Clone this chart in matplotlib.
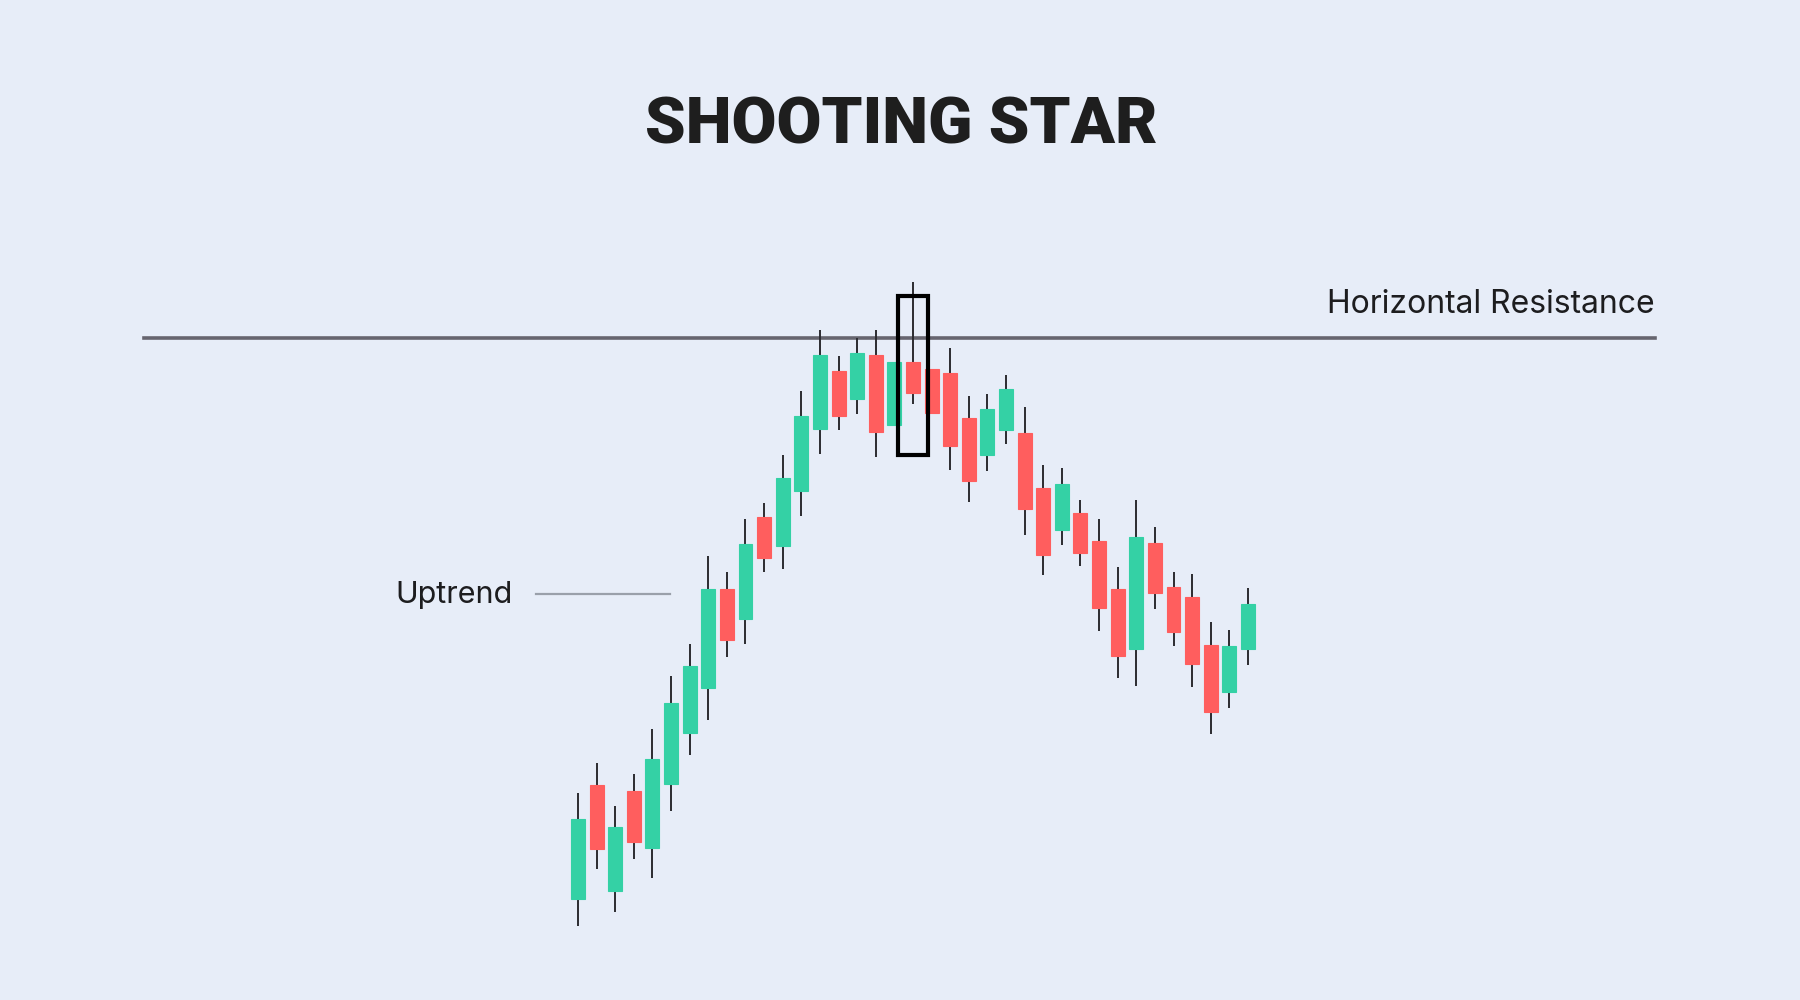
import matplotlib
matplotlib.use("Agg")
import matplotlib.pyplot as plt
from matplotlib.patches import Rectangle
import matplotlib.transforms as mtransforms

# candle data (price units), one entry per candle
opens = [101, 215, 109, 209, 152, 216, 267, 312, 411, 381, 483, 454, 509, 571, 629, 601, 645, 575, 638,
         631, 627, 582, 545, 570, 567, 512, 470, 487, 459, 411, 351, 457, 413, 403, 355, 308, 351]
closes = [181, 151, 173, 158, 241, 297, 334, 411, 360, 456, 442, 522, 584, 645, 584, 647, 568, 638, 607,
          587, 554, 519, 591, 611, 491, 445, 516, 447, 392, 344, 463, 407, 368, 336, 288, 354, 396]
highs = [207, 237, 194, 226, 271, 324, 356, 444, 428, 481, 497, 545, 609, 670, 644, 662, 670, 638, 718,
         631, 652, 604, 606, 625, 593, 535, 532, 500, 481, 433, 500, 473, 428, 426, 378, 370, 412]
lows = [74, 131, 88, 141, 122, 189, 245, 280, 343, 356, 428, 431, 484, 546, 570, 586, 543, 575, 596,
        587, 530, 498, 529, 556, 465, 425, 455, 434, 369, 322, 314, 391, 354, 313, 266, 292, 335]
resistance = 662
star_idx = 18

bg = "#e7edf8"
green = "#34d1a5"
red = "#ff5e5e"

fig = plt.figure(figsize=(18, 10), dpi=100, facecolor=bg)
ax = fig.add_axes([0, 0, 1, 1])
ax.set_facecolor(bg)

step = 18.61  # pixel spacing between candles
x0 = 578.0    # pixel position of the first candle
ax.set_xlim(-x0 / step, (1800 - x0) / step)
ax.set_ylim(0, 1000)
ax.axis("off")

width = 0.75
for i in range(len(opens)):
    o, c, h, l = opens[i], closes[i], highs[i], lows[i]
    col = green if c >= o else red
    ax.plot([i, i], [l, h], color="#2b2b30", lw=1.4, zorder=2, solid_capstyle="butt")
    lo, hi = min(o, c), max(o, c)
    ax.add_patch(Rectangle((i - width / 2, lo), width, hi - lo, facecolor=col,
                           edgecolor=col, lw=0.8, zorder=3))

# box around the shooting star
box_lo = lows[star_idx] - 51
box_hi = highs[star_idx] - 14
ax.add_patch(Rectangle((star_idx - 0.81, box_lo), 1.62, box_hi - box_lo, facecolor="none",
                       edgecolor="black", lw=3, zorder=4))

# horizontal resistance
trans = mtransforms.blended_transform_factory(ax.transAxes, ax.transData)
ax.plot([0.08, 0.9195], [resistance, resistance], color="#66656f", lw=2.6, transform=trans, zorder=1)
ax.text(0.9195, resistance + 25, "Horizontal Resistance", transform=trans, ha="right",
        va="baseline", fontsize=23, family=["Inter", "DejaVu Sans"], color="#1d1d1f")

# uptrend label
ax.plot([0.2978, 0.3722], [1 - 0.5937, 1 - 0.5937], color="#9aa0aa", lw=1.6,
        transform=ax.transAxes)
ax.text(0.2195, 1 - 0.6027, "Uptrend", transform=ax.transAxes, ha="left", va="baseline",
        fontsize=22, family=["Inter", "DejaVu Sans"], color="#1d1d1f")

fig.text(0.5006, 1 - 0.144, "SHOOTING STAR", ha="center", va="baseline", fontsize=47,
         fontweight="black", family=["Roboto", "DejaVu Sans"], color="#1e1e1e")

fig.savefig("out.png", dpi=100, facecolor=bg)
